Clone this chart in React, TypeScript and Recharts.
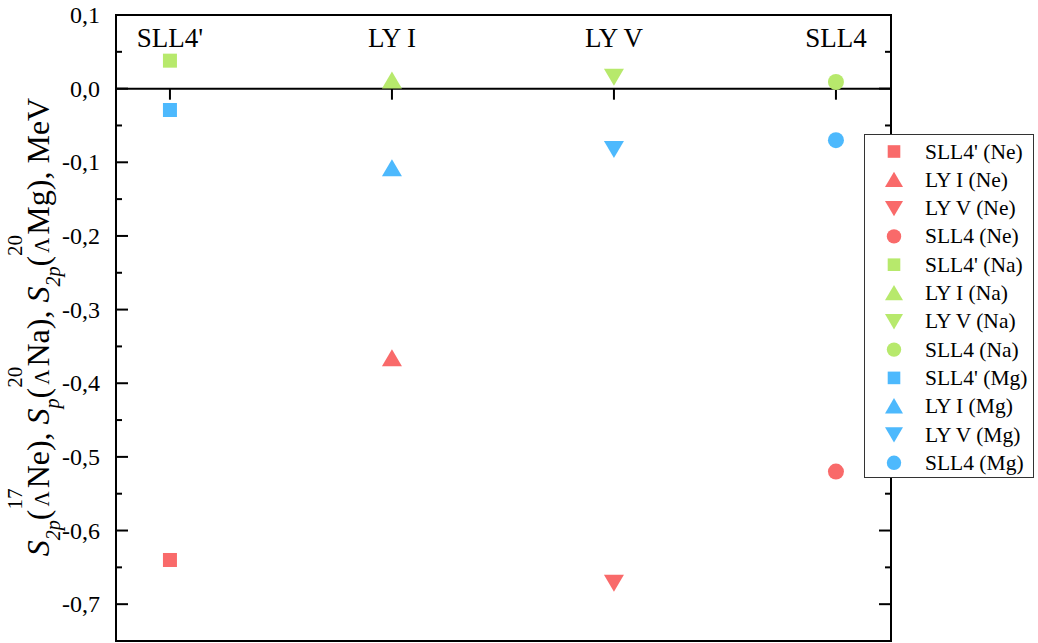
import React from 'react';
import { ScatterChart, Scatter, XAxis, YAxis, ReferenceArea, ReferenceLine } from 'recharts';

// categories (top labels) and their x positions
const categories = ["SLL4'", 'LY I', 'LY V', 'SLL4'];
const categoryX = [1, 2, 3, 4];

// separation energies, MeV
const nuclei = ['Ne', 'Na', 'Mg'];
const neValues = [-0.64, -0.366, -0.671, -0.52];
const naValues = [0.038, 0.011, 0.016, 0.009];
const mgValues = [-0.029, -0.108, -0.082, -0.07];

const nucleusColors = ['#f96a6a', '#b7e96c', '#4db9fd'];
const markerKinds = ['square', 'triangleUp', 'triangleDown', 'circle'];

const yTicks = [
  0.1, 0.05, 0, -0.05, -0.1, -0.15, -0.2, -0.25, -0.3, -0.35,
  -0.4, -0.45, -0.5, -0.55, -0.6, -0.65, -0.7, -0.75,
];

const X_DOMAIN = [0.757, 4.248];
const Y_DOMAIN = [-0.75, 0.1];
const PLOT_LEFT = 116;
const PLOT_RIGHT = 891;
const FONT = 'Liberation Serif';

const valuesByNucleus = [neValues, naValues, mgValues];

const series = nuclei.flatMap((nuc, ni) =>
  categories.map((cat, ci) => ({
    name: `${cat} (${nuc})`,
    color: nucleusColors[ni],
    kind: markerKinds[ci],
    data: [{ x: categoryX[ci], y: valuesByNucleus[ni][ci] }],
  }))
);

const Marker = ({ cx, cy, kind, color, s = 1 }: any) => {
  if (cx == null || cy == null) return null;
  if (kind === 'square') {
    return <rect x={cx - 7 * s} y={cy - 7 * s} width={14 * s} height={14 * s} fill={color} />;
  }
  if (kind === 'triangleUp') {
    return (
      <polygon
        points={`${cx},${cy - 9 * s} ${cx - 10 * s},${cy + 8 * s} ${cx + 10 * s},${cy + 8 * s}`}
        fill={color}
      />
    );
  }
  if (kind === 'triangleDown') {
    return (
      <polygon
        points={`${cx - 10 * s},${cy - 8 * s} ${cx + 10 * s},${cy - 8 * s} ${cx},${cy + 9 * s}`}
        fill={color}
      />
    );
  }
  return <circle cx={cx} cy={cy} r={8 * s} fill={color} />;
};

const isMajor = (v: number) => Math.abs(v * 10 - Math.round(v * 10)) < 1e-6;
const fmt = (v: number) => v.toFixed(1).replace('.', ',');

const YTick = ({ y, payload }: any) => {
  const v = payload.value;
  const major = isMajor(v);
  const len = major ? 12 : 6;
  return (
    <g>
      <line x1={PLOT_LEFT} x2={PLOT_LEFT + len} y1={y} y2={y} stroke="#000" strokeWidth={2} />
      <line x1={PLOT_RIGHT - len} x2={PLOT_RIGHT} y1={y} y2={y} stroke="#000" strokeWidth={2} />
      {major && (
        <text x={100} y={y + 8} textAnchor="end" fontFamily={FONT} fontSize={24} fill="#000">
          {fmt(v)}
        </text>
      )}
    </g>
  );
};

const CategoryTick = ({ x, payload }: any) => {
  const idx = categoryX.indexOf(payload.value);
  return (
    <text x={x} y={47} textAnchor="middle" fontFamily={FONT} fontSize={27} fill="#000">
      {categories[idx]}
    </text>
  );
};

// stacked prescript: mass number above, Λ below
const Prescript = (mass: string) => [
  <tspan key="a" fontSize={21} dy={-27}>{mass}</tspan>,
  <tspan key="b" fontSize={21} dx={-18} dy={27}>Λ</tspan>,
];

const AxisTitle = () => (
  <text
    transform="translate(49, 327) rotate(-90)"
    textAnchor="middle"
    fontSize={32}
    fontFamily={FONT}
    fill="#000"
    style={{ whiteSpace: 'pre' }}
  >
    <tspan fontStyle="italic">S</tspan>
    <tspan fontSize={20} dy={11} fontStyle="italic">2p</tspan>
    <tspan dy={-11}>(</tspan>
    {Prescript('17')}
    <tspan dx={3}>{'Ne), '}</tspan>
    <tspan fontStyle="italic">S</tspan>
    <tspan fontSize={20} dy={10} fontStyle="italic">p</tspan>
    <tspan dy={-10}>(</tspan>
    {Prescript('20')}
    <tspan dx={3}>{'Na), '}</tspan>
    <tspan fontStyle="italic">S</tspan>
    <tspan fontSize={20} dy={11} fontStyle="italic">2p</tspan>
    <tspan dy={-11}>(</tspan>
    {Prescript('20')}
    <tspan dx={3}>{'Mg), MeV'}</tspan>
  </text>
);

const LegendBox = () => (
  <svg
    width={1038}
    height={643}
    style={{ position: 'absolute', left: 0, top: 0, pointerEvents: 'none' }}
  >
    <rect x={864.5} y={134.5} width={169} height={343} fill="#fff" stroke="#333" strokeWidth={1} />
    {series.map((s, i) => {
      const cy = 151.5 + i * 28.3;
      return (
        <g key={s.name}>
          <Marker cx={894} cy={cy} kind={s.kind} color={s.color} s={0.9} />
          <text x={925} y={cy + 7} fontFamily={FONT} fontSize={21.5} fill="#000">
            {s.name}
          </text>
        </g>
      );
    })}
  </svg>
);

export default function App() {
  return (
    <div style={{ position: 'absolute', left: 0, top: 0, width: 1038, height: 643, background: '#fff' }}>
      <ScatterChart
        width={1038}
        height={643}
        margin={{ top: 14, right: 1038 - PLOT_RIGHT, bottom: 2, left: 0 }}
      >
        <XAxis
          type="number"
          dataKey="x"
          orientation="top"
          height={1}
          domain={X_DOMAIN}
          allowDataOverflow
          ticks={categoryX}
          interval={0}
          axisLine={false}
          tickLine={false}
          tick={<CategoryTick />}
        />
        <YAxis
          type="number"
          dataKey="y"
          width={PLOT_LEFT}
          domain={Y_DOMAIN}
          allowDataOverflow
          ticks={yTicks}
          interval={0}
          axisLine={false}
          tickLine={false}
          tick={<YTick />}
          label={{ content: () => <AxisTitle /> }}
        />
        <ReferenceArea
          x1={X_DOMAIN[0]}
          x2={X_DOMAIN[1]}
          y1={Y_DOMAIN[0]}
          y2={Y_DOMAIN[1]}
          fill="none"
          fillOpacity={0}
          stroke="#000"
          strokeWidth={2}
          ifOverflow="visible"
        />
        <ReferenceLine y={0} stroke="#000" strokeWidth={2} />
        {categoryX.map((cx) => (
          <ReferenceLine
            key={cx}
            segment={[{ x: cx, y: 0 }, { x: cx, y: -0.015 }]}
            stroke="#000"
            strokeWidth={2}
          />
        ))}
        {series.map((s) => (
          <Scatter
            key={s.name}
            name={s.name}
            data={s.data}
            fill={s.color}
            isAnimationActive={false}
            shape={(p: any) => <Marker cx={p.cx} cy={p.cy} kind={s.kind} color={s.color} />}
          />
        ))}
      </ScatterChart>
      <LegendBox />
    </div>
  );
}
